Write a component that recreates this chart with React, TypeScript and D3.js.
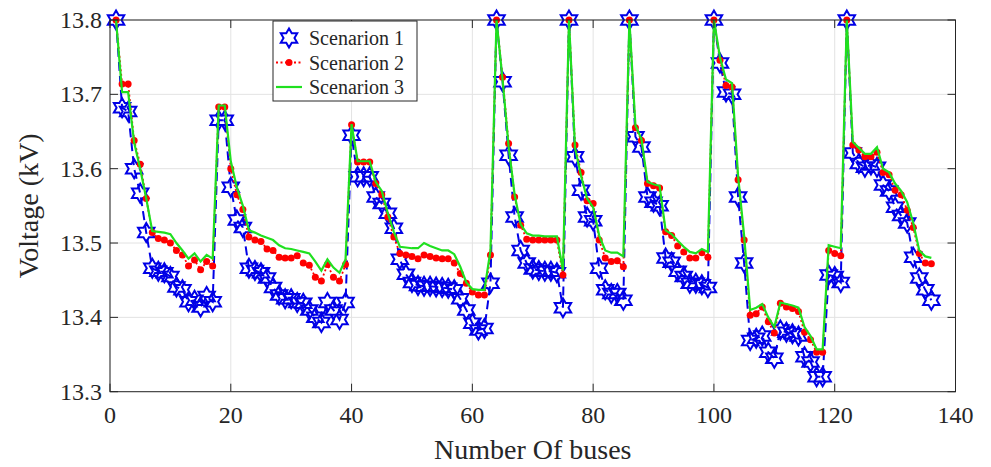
import React from "react";
import * as d3 from "d3";

const xTicks = [0, 20, 40, 60, 80, 100, 120, 140];
const yTicks = [13.3, 13.4, 13.5, 13.6, 13.7, 13.8];
const seriesNames = ["Scenarion 1", "Scenarion 2", "Scenarion 3"];

const scenario1 = [
  13.800, 13.682, 13.677, 13.600, 13.567, 13.514, 13.466, 13.462, 13.460, 13.455,
  13.441, 13.437, 13.421, 13.423, 13.414, 13.428, 13.421, 13.665, 13.665, 13.575,
  13.531, 13.521, 13.466, 13.463, 13.460, 13.453, 13.440, 13.430, 13.425, 13.425,
  13.420, 13.419, 13.410, 13.400, 13.393, 13.420, 13.410, 13.397, 13.420, 13.645,
  13.589, 13.589, 13.589, 13.562, 13.553, 13.540, 13.520, 13.478, 13.458, 13.447,
  13.443, 13.442, 13.442, 13.441, 13.440, 13.439, 13.437, 13.425, 13.410, 13.392,
  13.383, 13.385, 13.446, 13.800, 13.717, 13.618, 13.535, 13.490, 13.473, 13.465,
  13.463, 13.462, 13.462, 13.460, 13.413, 13.800, 13.616, 13.571, 13.535, 13.530,
  13.466, 13.437, 13.432, 13.432, 13.423, 13.800, 13.643, 13.629, 13.562, 13.555,
  13.550, 13.480, 13.474, 13.462, 13.455, 13.446, 13.446, 13.444, 13.440, 13.800,
  13.742, 13.703, 13.700, 13.562, 13.473, 13.369, 13.372, 13.375, 13.353, 13.345,
  13.383, 13.380, 13.378, 13.375, 13.347, 13.340, 13.320, 13.320, 13.457, 13.455,
  13.447, 13.800, 13.621, 13.607, 13.602, 13.605, 13.602, 13.578, 13.570, 13.548,
  13.537, 13.527, 13.481, 13.453, 13.437, 13.423,
];

const scenario2 = [
  13.800, 13.714, 13.714, 13.638, 13.606, 13.560, 13.514, 13.506, 13.504, 13.500,
  13.490, 13.484, 13.469, 13.477, 13.464, 13.475, 13.469, 13.683, 13.683, 13.600,
  13.565, 13.545, 13.508, 13.504, 13.502, 13.492, 13.490, 13.481, 13.480, 13.480,
  13.483, 13.473, 13.470, 13.454, 13.449, 13.471, 13.454, 13.449, 13.471, 13.659,
  13.609, 13.609, 13.609, 13.580, 13.565, 13.535, 13.508, 13.486, 13.484, 13.482,
  13.479, 13.484, 13.482, 13.480, 13.479, 13.479, 13.473, 13.459, 13.446, 13.434,
  13.430, 13.430, 13.484, 13.800, 13.723, 13.634, 13.562, 13.524, 13.505, 13.504,
  13.504, 13.504, 13.504, 13.504, 13.457, 13.800, 13.632, 13.595, 13.557, 13.553,
  13.504, 13.480, 13.475, 13.476, 13.468, 13.800, 13.655, 13.638, 13.580, 13.577,
  13.574, 13.515, 13.510, 13.496, 13.488, 13.480, 13.480, 13.487, 13.481, 13.800,
  13.746, 13.712, 13.710, 13.585, 13.504, 13.403, 13.405, 13.414, 13.394, 13.379,
  13.419, 13.414, 13.412, 13.408, 13.380, 13.370, 13.353, 13.353, 13.490, 13.486,
  13.483, 13.800, 13.632, 13.625, 13.616, 13.616, 13.622, 13.595, 13.592, 13.571,
  13.565, 13.544, 13.521, 13.486, 13.473, 13.472,
];

const scenario3 = [
  13.800, 13.703, 13.703, 13.635, 13.600, 13.560, 13.516, 13.515, 13.514, 13.512,
  13.500, 13.490, 13.479, 13.486, 13.475, 13.484, 13.479, 13.685, 13.685, 13.610,
  13.575, 13.550, 13.517, 13.514, 13.510, 13.507, 13.504, 13.497, 13.493, 13.492,
  13.490, 13.488, 13.486, 13.475, 13.463, 13.478, 13.467, 13.460, 13.478, 13.660,
  13.610, 13.610, 13.610, 13.582, 13.570, 13.540, 13.515, 13.495, 13.494, 13.493,
  13.493, 13.500, 13.496, 13.493, 13.490, 13.490, 13.485, 13.468, 13.447, 13.438,
  13.437, 13.437, 13.490, 13.800, 13.720, 13.630, 13.565, 13.525, 13.513, 13.510,
  13.510, 13.509, 13.509, 13.509, 13.463, 13.800, 13.628, 13.590, 13.560, 13.548,
  13.510, 13.490, 13.487, 13.487, 13.482, 13.800, 13.658, 13.640, 13.582, 13.579,
  13.577, 13.517, 13.512, 13.503, 13.495, 13.488, 13.486, 13.492, 13.488, 13.800,
  13.750, 13.720, 13.715, 13.590, 13.510, 13.410, 13.413, 13.418, 13.400, 13.387,
  13.420, 13.418, 13.416, 13.413, 13.387, 13.375, 13.357, 13.357, 13.497, 13.495,
  13.493, 13.800, 13.636, 13.628, 13.620, 13.620, 13.629, 13.600, 13.595, 13.580,
  13.570, 13.555, 13.527, 13.490, 13.482, 13.480,
];

const W = 991;
const H = 467;
const M = { left: 110, right: 35.5, top: 20, bottom: 75.3 };
const FONT = "'Liberation Serif', 'Times New Roman', serif";
const TXT = "#262626";
const BLUE = "#0000e6";
const RED = "#ff0000";
const GREEN = "#1fe01f";

function hexagram(cx: number, cy: number, R: number) {
  const r = R / Math.sqrt(3);
  const pts: string[] = [];
  for (let k = 0; k < 12; k++) {
    const a = -Math.PI / 2 + (k * Math.PI) / 6;
    const rr = k % 2 === 0 ? R : r;
    pts.push(`${cx + rr * Math.cos(a)},${cy + rr * Math.sin(a)}`);
  }
  return `M${pts.join("L")}Z`;
}

export default function App() {
  const x = d3.scaleLinear().domain([0, 140]).range([M.left, W - M.right]);
  const y = d3.scaleLinear().domain([13.3, 13.8]).range([H - M.bottom, M.top]);
  const x0 = x(0), x1 = x(140), y0 = y(13.3), y1 = y(13.8);

  const mk = (arr: number[]) =>
    d3.line<number>().x((_, i) => x(i + 1)).y((d) => y(d))(arr) || "";

  const tickLen = 8;

  return (
    <svg
      width={W}
      height={H}
      style={{ position: "fixed", left: 0, top: 0, background: "#fff" }}
    >
      <rect x={0} y={0} width={W} height={H} fill="#fff" />
      {/* grid */}
      {xTicks.map((t) => (
        <line key={"gx" + t} x1={x(t)} x2={x(t)} y1={y0} y2={y1} stroke="#e3e3e3" strokeWidth={1} />
      ))}
      {yTicks.map((t) => (
        <line key={"gy" + t} x1={x0} x2={x1} y1={y(t)} y2={y(t)} stroke="#e3e3e3" strokeWidth={1} />
      ))}
      {/* series 1 */}
      <path d={mk(scenario1)} fill="none" stroke={BLUE} strokeWidth={2} strokeDasharray="9,5" />
      {scenario1.map((v, i) => (
        <path key={"s1" + i} d={hexagram(x(i + 1), y(v), 9.5)} fill="none" stroke={BLUE} strokeWidth={2} strokeLinejoin="miter" />
      ))}
      {/* series 2 */}
      <path d={mk(scenario2)} fill="none" stroke={RED} strokeWidth={1.8} strokeDasharray="2,2.5" />
      {scenario2.map((v, i) => (
        <circle key={"s2" + i} cx={x(i + 1)} cy={y(v)} r={3.5} fill={RED} />
      ))}
      {/* series 3 */}
      <path d={mk(scenario3)} fill="none" stroke={GREEN} strokeWidth={2.2} />
      {/* axes box */}
      <rect x={x0} y={y1} width={x1 - x0} height={y0 - y1} fill="none" stroke={TXT} strokeWidth={1} />
      {xTicks.map((t) => (
        <g key={"tx" + t}>
          <line x1={x(t)} x2={x(t)} y1={y0} y2={y0 - tickLen} stroke={TXT} />
          <line x1={x(t)} x2={x(t)} y1={y1} y2={y1 + tickLen} stroke={TXT} />
          <text x={x(t)} y={y0 + 31} textAnchor="middle" fontFamily={FONT} fontSize={24} fill={TXT}>
            {t}
          </text>
        </g>
      ))}
      {yTicks.map((t) => (
        <g key={"ty" + t}>
          <line x1={x0} x2={x0 + tickLen} y1={y(t)} y2={y(t)} stroke={TXT} />
          <line x1={x1} x2={x1 - tickLen} y1={y(t)} y2={y(t)} stroke={TXT} />
          <text x={x0 - 8} y={y(t) + 8} textAnchor="end" fontFamily={FONT} fontSize={24} fill={TXT}>
            {t.toFixed(1)}
          </text>
        </g>
      ))}
      <text x={(x0 + x1) / 2} y={H - 8} textAnchor="middle" fontFamily={FONT} fontSize={28} fill={TXT}>
        Number Of buses
      </text>
      <text
        transform={`translate(38,${(y0 + y1) / 2}) rotate(-90)`}
        textAnchor="middle"
        fontFamily={FONT}
        fontSize={28}
        fill={TXT}
      >
        Voltage (kV)
      </text>
      {/* legend */}
      <g>
        <rect x={273} y={21} width={144} height={80} fill="#fff" stroke={TXT} strokeWidth={1} />
        {seriesNames.map((name, i) => {
          const cy = 38 + i * 24.5;
          return (
            <g key={name}>
              {i === 0 && (
                <path d={hexagram(289, cy, 9.5)} fill="none" stroke={BLUE} strokeWidth={2} />
              )}
              {i === 1 && (
                <g>
                  <line x1={276} x2={302} y1={cy} y2={cy} stroke={RED} strokeWidth={1.8} strokeDasharray="2,2.5" />
                  <circle cx={289} cy={cy} r={3.5} fill={RED} />
                </g>
              )}
              {i === 2 && <line x1={276} x2={302} y1={cy} y2={cy} stroke={GREEN} strokeWidth={2.2} />}
              <text x={309} y={cy + 7} fontFamily={FONT} fontSize={20} fill={TXT}>
                {name}
              </text>
            </g>
          );
        })}
      </g>
    </svg>
  );
}
